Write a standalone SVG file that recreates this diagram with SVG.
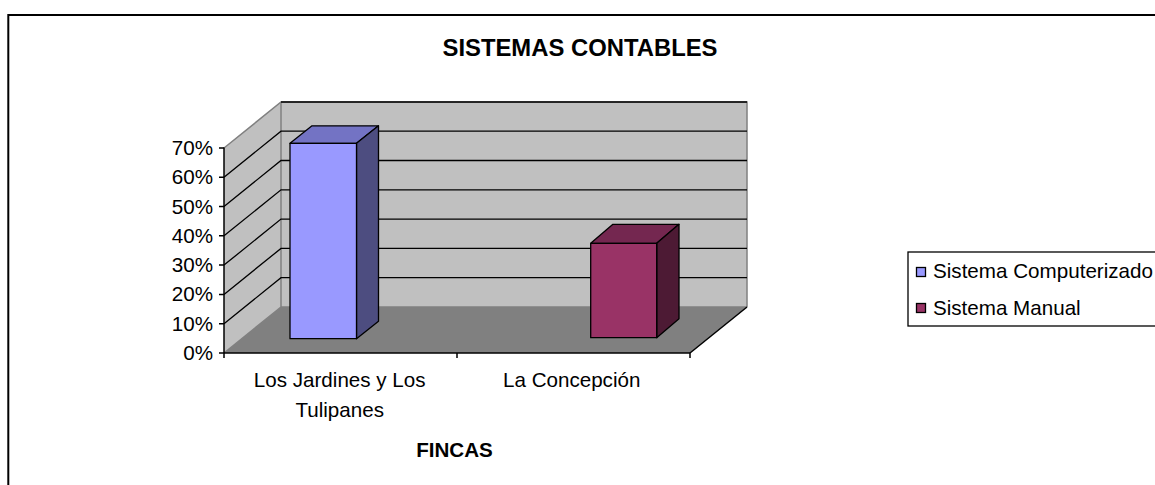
<svg xmlns="http://www.w3.org/2000/svg" width="1155" height="485" viewBox="0 0 1155 485">
<style>
text{font-family:"Liberation Sans",Arial,sans-serif;fill:#000}
.lbl{font-size:20.6px}
.ylbl{font-size:20.6px;text-anchor:end}
.bold{font-weight:bold}
.grid{stroke:#000;stroke-width:1.3;fill:none}
.edge{stroke:#808080;stroke-width:1.5;fill:none}
.ax{stroke:#000;stroke-width:1.5;fill:none}
.bar{stroke:#000;stroke-width:1.3;stroke-linejoin:round}
</style>
<rect width="1155" height="485" fill="#fff"/>
<rect id="frame" x="8.3" y="15" width="1200" height="500" fill="none" stroke="#000" stroke-width="2"/>
<text id="title" class="bold" x="580" y="56" font-size="23" text-anchor="middle" textLength="275" lengthAdjust="spacingAndGlyphs">SISTEMAS CONTABLES</text>
<g id="walls">
<polygon points="224,353 281,307 281,102 224,148" fill="#c0c0c0"/>
<rect x="281" y="102" width="466" height="205" fill="#c0c0c0"/>
<polygon points="224,353 281,307 747,307 690,353" fill="#808080"/>
<polyline class="edge" points="224,148 281,102 747,102 747,307"/>
<line class="edge" x1="281" y1="102" x2="281" y2="307"/>
<line class="edge" x1="281" y1="307" x2="747" y2="307"/>
<line class="edge" x1="224" y1="353" x2="281" y2="307"/>
</g>
<g id="gridlines">
<polyline class="grid" points="224,323.7 281,277.7 747,277.7"/>
<polyline class="grid" points="224,294.4 281,248.4 747,248.4"/>
<polyline class="grid" points="224,265.1 281,219.1 747,219.1"/>
<polyline class="grid" points="224,235.8 281,189.8 747,189.8"/>
<polyline class="grid" points="224,206.5 281,160.5 747,160.5"/>
<polyline class="grid" points="224,177.2 281,131.2 747,131.2"/>
<polyline class="grid" points="281,102 747,102"/>
</g>
<g id="axes">
<line class="ax" x1="224" y1="147.5" x2="224" y2="353"/>
<line class="ax" x1="219" y1="353" x2="690" y2="353"/>
<line class="ax" x1="690" y1="353" x2="747" y2="307"/>
<path class="ax" d="M219,148H224M219,177.2H224M219,206.5H224M219,235.8H224M219,265.1H224M219,294.4H224M219,323.7H224M224,353V358M457,353V358M690,353V358"/>
</g>
<g id="bar1">
<polygon class="bar" points="290,143.3 312,125.8 378.5,125.8 356.5,143.3" fill="#7373c4"/>
<polygon class="bar" points="356.5,143.3 378.5,125.8 378.5,321.2 356.5,338.7" fill="#4d4d80"/>
<rect class="bar" x="290" y="143.3" width="66.5" height="195.4" fill="#9999ff"/>
</g>
<g id="bar2">
<polygon class="bar" points="590.7,243.3 612.9,224.3 679,224.3 656.7,243.3" fill="#742750"/>
<polygon class="bar" points="656.7,243.3 679,224.3 679,318.7 656.7,337.7" fill="#4d1a34"/>
<rect class="bar" x="590.7" y="243.3" width="66" height="94.4" fill="#993366"/>
</g>
<g id="y-labels">
<text class="ylbl" x="213" y="360">0%</text>
<text class="ylbl" x="213" y="330.7">10%</text>
<text class="ylbl" x="213" y="301.4">20%</text>
<text class="ylbl" x="213" y="272.1">30%</text>
<text class="ylbl" x="213" y="242.8">40%</text>
<text class="ylbl" x="213" y="213.5">50%</text>
<text class="ylbl" x="213" y="184.2">60%</text>
<text class="ylbl" x="213" y="155">70%</text>
</g>
<g id="x-labels">
<text class="lbl" x="339.7" y="387.3" text-anchor="middle">Los Jardines y Los</text>
<text class="lbl" x="339.7" y="417.3" text-anchor="middle">Tulipanes</text>
<text class="lbl" x="571.7" y="387.3" text-anchor="middle">La Concepción</text>
<text class="lbl bold" x="454.5" y="456.7" text-anchor="middle">FINCAS</text>
</g>
<g id="legend">
<rect x="908" y="252" width="300" height="74" fill="#fff" stroke="#000" stroke-width="1.3"/>
<rect x="916.5" y="267.5" width="9" height="9" fill="#9999ff" stroke="#000" stroke-width="1.3"/>
<text class="lbl" x="933" y="278" textLength="220" lengthAdjust="spacingAndGlyphs">Sistema Computerizado</text>
<rect x="916.5" y="303.5" width="9" height="9" fill="#993366" stroke="#000" stroke-width="1.3"/>
<text class="lbl" x="933" y="315">Sistema Manual</text>
</g>
</svg>
